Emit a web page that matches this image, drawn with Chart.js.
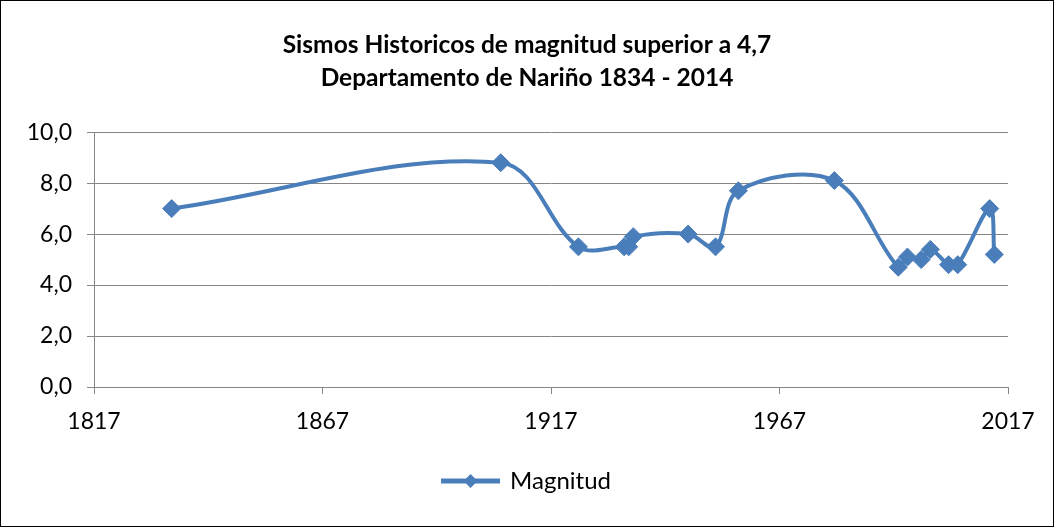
<!DOCTYPE html>
<html lang="es">
<head>
    <meta charset="UTF-8">
    <title>Sismos Historicos Nariño</title>
    <script src="https://cdn.jsdelivr.net/npm/chart.js"></script>
    <style>
        body {
            margin: 0;
            background-color: #fff;
        }
        .marco {
            position: absolute;
            left: 0;
            top: 0;
            width: 1052px;
            height: 525px;
            border: 1px solid #000;
            background-color: #fff;
        }
    </style>
</head>
<body>
    <div class="marco">
        <canvas id="grafico" width="1052" height="525"></canvas>
    </div>
    <script>
        // datos
        const anios = [1834, 1906, 1923, 1933, 1934, 1935, 1947, 1953, 1958, 1979, 1993, 1995, 1998, 2000, 2004, 2006, 2013, 2014];
        const magnitudes = [7.0, 8.8, 5.5, 5.5, 5.5, 5.9, 6.0, 5.5, 7.7, 8.1, 4.7, 5.1, 5.0, 5.4, 4.8, 4.8, 7.0, 5.2];
        const ticksAnio = [1817, 1867, 1917, 1967, 2017];
        const ticksMagnitud = [0, 2, 4, 6, 8, 10];
        const titulo = ['Sismos Historicos de magnitud superior a 4,7', 'Departamento de Nariño 1834 - 2014'];
        const nombreSerie = 'Magnitud';

        const colorSerie = '#4a7ebb';
        const colorRejilla = '#868686';

        Chart.defaults.font.family = 'Lato, "Open Sans", sans-serif';
        Chart.defaults.color = '#000';

        // dibuja el rombo encima de la linea de la leyenda
        const romboLeyenda = {
            id: 'romboLeyenda',
            afterDraw(chart) {
                const leg = chart.legend;
                if (!leg || !leg.legendHitBoxes || !leg.legendHitBoxes.length) return;
                const hb = leg.legendHitBoxes[0];
                const x = hb.left + leg.options.labels.boxWidth / 2;
                const y = hb.top + hb.height / 2;
                const r = 7;
                const ctx = chart.ctx;
                ctx.save();
                ctx.fillStyle = colorSerie;
                ctx.beginPath();
                ctx.moveTo(x, y - r);
                ctx.lineTo(x + r, y);
                ctx.lineTo(x, y + r);
                ctx.lineTo(x - r, y);
                ctx.closePath();
                ctx.fill();
                ctx.restore();
            }
        };

        new Chart(document.getElementById('grafico'), {
            type: 'scatter',
            data: {
                datasets: [{
                    label: nombreSerie,
                    data: anios.map((a, i) => ({ x: a, y: magnitudes[i] })),
                    showLine: true,
                    borderColor: colorSerie,
                    backgroundColor: colorSerie,
                    borderWidth: 4,
                    tension: 0.35,
                    pointStyle: 'rectRot',
                    pointRadius: 9,
                    pointBorderWidth: 1,
                    pointBackgroundColor: colorSerie,
                    pointBorderColor: colorSerie
                }]
            },
            options: {
                responsive: false,
                animation: false,
                layout: {
                    padding: { left: 0, right: 0, top: 0, bottom: 23 }
                },
                plugins: {
                    title: {
                        display: true,
                        text: titulo,
                        font: { size: 24.5, weight: 'bold', lineHeight: 1.33 },
                        padding: { top: 28, bottom: 38 }
                    },
                    legend: {
                        position: 'bottom',
                        labels: {
                            boxWidth: 55,
                            boxHeight: 1,
                            padding: 10,
                            font: { size: 24 }
                        }
                    },
                    tooltip: { enabled: false }
                },
                scales: {
                    x: {
                        type: 'linear',
                        min: ticksAnio[0],
                        max: ticksAnio[ticksAnio.length - 1],
                        afterBuildTicks: (scale) => {
                            scale.ticks = ticksAnio.map(v => ({ value: v }));
                        },
                        afterFit: (scale) => {
                            scale.height = 72;
                        },
                        ticks: {
                            font: { size: 23 },
                            padding: 14,
                            maxRotation: 0,
                            callback: (v) => String(v)
                        },
                        grid: {
                            drawOnChartArea: false,
                            drawTicks: true,
                            tickLength: 7,
                            color: colorRejilla
                        },
                        border: { color: colorRejilla }
                    },
                    y: {
                        min: 0,
                        max: 10,
                        afterBuildTicks: (scale) => {
                            scale.ticks = ticksMagnitud.map(v => ({ value: v }));
                        },
                        afterFit: (scale) => {
                            scale.width = 93;
                        },
                        ticks: {
                            font: { size: 23 },
                            padding: 15,
                            callback: (v) => v.toFixed(1).replace('.', ',')
                        },
                        grid: {
                            color: colorRejilla,
                            tickLength: 7
                        },
                        border: { color: colorRejilla }
                    },
                    // eje vacio a la derecha, solo reserva el margen
                    y2: {
                        position: 'right',
                        min: 0,
                        max: 10,
                        afterFit: (scale) => {
                            scale.width = 45;
                        },
                        ticks: { display: false },
                        grid: { display: false },
                        border: { display: false }
                    }
                }
            },
            plugins: [romboLeyenda]
        });
    </script>
</body>
</html>
